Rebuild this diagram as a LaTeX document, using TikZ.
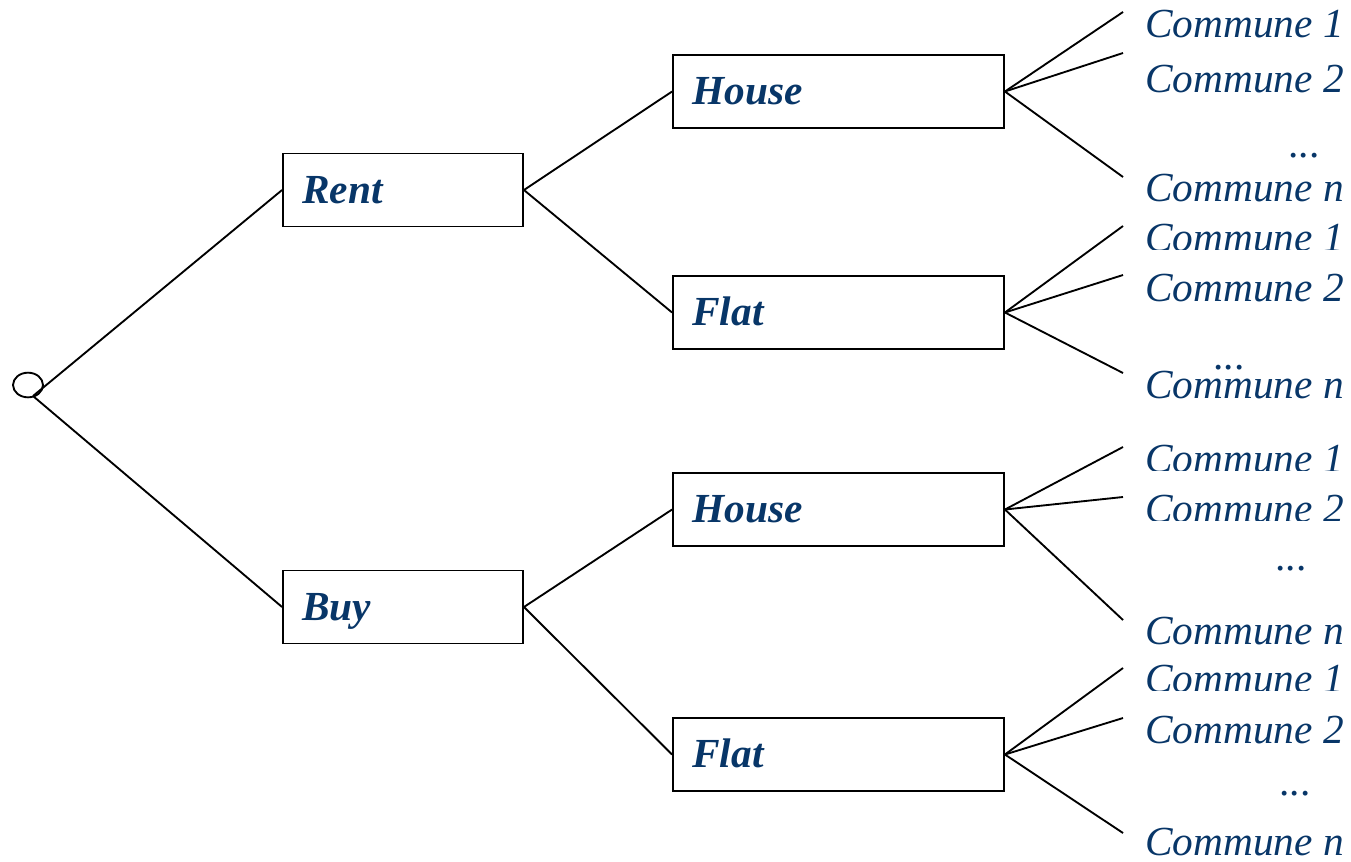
\documentclass[tikz,border=0pt]{standalone}
\usepackage{fontspec}
\setmainfont{Liberation Serif}
\usetikzlibrary{shapes.geometric}
\definecolor{txtblue}{RGB}{8,54,104}
\tikzset{
  ln/.style={line width=1.4pt, black},
  box/.style={draw, line width=1.4pt, rectangle, minimum height=54.75pt, text height=22.5pt, text depth=3pt, inner xsep=14.5pt, align=left, text=txtblue, font=\fontsize{31}{31}\selectfont\bfseries\itshape},
  boxa/.style={box, text width=151pt},
  boxb/.style={box, text width=219.25pt},
  comm/.style={anchor=base west, inner sep=0pt, text=txtblue, font=\fontsize{31}{31}\selectfont\itshape},
  dots/.style={anchor=base, inner sep=0pt, text=txtblue, font=\fontsize{31}{31}\selectfont\itshape},
}
\begin{document}
\begin{tikzpicture}[x=0.75pt,y=-0.75pt]
\useasboundingbox (0,0) rectangle (1351,861);
% root
\node[draw, ellipse, line width=1.4pt, minimum width=22.5pt, minimum height=18.5pt, inner sep=0pt] (root) at (28,385) {};
\coordinate (r0) at (33,396);
% level 1
\node[boxa] (rent) at (403,190) {Rent};
\node[boxa] (buy) at (403,607) {Buy};
% level 2
\node[boxb] (house1) at (838.5,91.5) {House};
\node[boxb] (flat1) at (838.5,312.5) {Flat};
\node[boxb] (house2) at (838.5,509.5) {House};
\node[boxb] (flat2) at (838.5,754.5) {Flat};
% connectors
\draw[ln] (r0) -- (rent.west);
\draw[ln] (r0) -- (buy.west);
\draw[ln] (rent.east) -- (house1.west);
\draw[ln] (rent.east) -- (flat1.west);
\draw[ln] (buy.east) -- (house2.west);
\draw[ln] (buy.east) -- (flat2.west);
% fan end points
\coordinate (a1) at (1123,12);  \coordinate (a2) at (1123,53);  \coordinate (an) at (1123,177);
\coordinate (b1) at (1123,226); \coordinate (b2) at (1123,275); \coordinate (bn) at (1123,373);
\coordinate (c1) at (1123,447); \coordinate (c2) at (1123,497); \coordinate (cn) at (1123,620);
\coordinate (d1) at (1123,668); \coordinate (d2) at (1123,718); \coordinate (dn) at (1123,833);
\foreach \e in {a1,a2,an} \draw[ln] (house1.east) -- (\e);
\foreach \e in {b1,b2,bn} \draw[ln] (flat1.east) -- (\e);
\foreach \e in {c1,c2,cn} \draw[ln] (house2.east) -- (\e);
\foreach \e in {d1,d2,dn} \draw[ln] (flat2.east) -- (\e);
% group 1
\node[comm] (ta1) at (1145,37) {Commune 1};
\node[comm] (ta2) at (1145,92) {Commune 2};
\node[dots] (tad) at (1305,157) {...};
\node[comm] (tan) at (1145,201) {Commune n};
% group 2
\begin{scope}
\clip (1100,200) rectangle (1351,249.5);
\node[comm] (tb1) at (1145,251) {Commune 1};
\end{scope}
\node[comm] (tb2) at (1145,301) {Commune 2};
\node[dots] (tbd) at (1230,369) {...};
\node[comm] (tbn) at (1145,398) {Commune n};
% group 3
\begin{scope}
\clip (1100,420) rectangle (1351,470.5);
\node[comm] (tc1) at (1145,472) {Commune 1};
\end{scope}
\begin{scope}
\clip (1100,475) rectangle (1351,520.5);
\node[comm] (tc2) at (1145,522) {Commune 2};
\end{scope}
\node[dots] (tcd) at (1292,570) {...};
\node[comm] (tcn) at (1145,644) {Commune n};
% group 4
\begin{scope}
\clip (1100,650) rectangle (1351,690.5);
\node[comm] (td1) at (1145,692) {Commune 1};
\end{scope}
\node[comm] (td2) at (1145,743) {Commune 2};
\node[dots] (tdd) at (1296,795) {...};
\node[comm] (tdn) at (1145,855) {Commune n};
\end{tikzpicture}
\end{document}
